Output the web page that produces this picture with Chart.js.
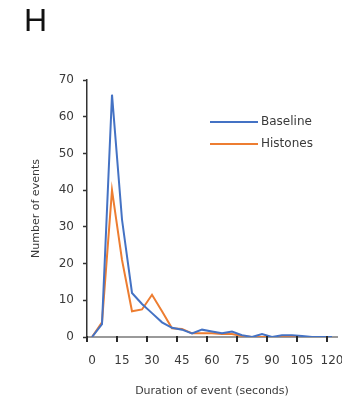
<!DOCTYPE html>
<html>
<head>
<meta charset="utf-8">
<script src="https://cdn.jsdelivr.net/npm/chart.js@4/dist/chart.umd.min.js"></script>
<style>
  body { margin: 0; background: #fff; }
  #wrap { position: relative; width: 342px; height: 401px; overflow: hidden; }
  #panel { position: absolute; left: 24px; top: 2px; font: 32px "Liberation Sans", Arial, sans-serif; color: #111; }
</style>
</head>
<body>
<div id="wrap">
  <canvas id="chart" width="342" height="401"></canvas>
  <div id="panel">H</div>
</div>
<script>
// Duration bins (seconds)
const durations = [0, 5, 10, 15, 20, 25, 30, 35, 40, 45, 50, 55, 60, 65, 70, 75, 80, 85, 90, 95, 100, 105, 110, 115, 120];

// Number of events per bin
const baseline = [0, 3.5, 66, 32, 12, 9, 6.5, 4, 2.5, 2, 1, 2, 1.5, 1, 1.5, 0.5, 0, 0.8, 0, 0.5, 0.5, 0.3, 0, 0, 0];
const histones = [0, 4, 40, 21, 7, 7.5, 11.5, 7, 2.4, 2.2, 1, 1, 1, 0.8, 0.8, 0.3, 0, 0, 0, 0, 0, 0, 0, 0, 0];

// Axis labels, and tick marks that sit between the bins (Excel style)
const xLabels = [0, 15, 30, 45, 60, 75, 90, 105, 120];
const xTickMarks = [-2.5, 12.5, 27.5, 42.5, 57.5, 72.5, 87.5, 102.5, 117.5];
const yTicks = [0, 10, 20, 30, 40, 50, 60, 70];

const textColor = "#3a3a3a";

const toPoints = (values) => durations.map((d, i) => ({ x: d, y: values[i] }));

// Legend drawn inside the plot, top right, plus the x tick marks
const extras = {
    id: "extras",
    afterDraw(chart) {
        const ctx = chart.ctx;
        const xs = chart.scales.x;
        ctx.save();

        // tick marks between bins
        ctx.strokeStyle = "#2a2a2a";
        ctx.lineWidth = 2;
        xTickMarks.forEach((v) => {
            const px = Math.round(xs.getPixelForValue(v));
            ctx.beginPath();
            ctx.moveTo(px, xs.top - 1);
            ctx.lineTo(px, xs.top + 5);
            ctx.stroke();
        });

        ctx.font = "12px 'DejaVu Sans', sans-serif";
        ctx.textBaseline = "middle";
        chart.data.datasets.forEach((ds, i) => {
            const y = 122 + i * 22;
            ctx.strokeStyle = ds.borderColor;
            ctx.lineWidth = 2;
            ctx.beginPath();
            ctx.moveTo(210, y);
            ctx.lineTo(258, y);
            ctx.stroke();
            ctx.fillStyle = textColor;
            ctx.fillText(ds.label, 261, y);
        });
        ctx.restore();
    }
};

const ctx = document.getElementById("chart").getContext("2d");

new Chart(ctx, {
    type: "line",
    data: {
        datasets: [
            {
                label: "Baseline",
                data: toPoints(baseline),
                borderColor: "#4472C4",
                backgroundColor: "#4472C4",
                borderWidth: 2,
                pointRadius: 0,
                tension: 0,
                fill: false,
            },
            {
                label: "Histones",
                data: toPoints(histones),
                borderColor: "#ED7D31",
                backgroundColor: "#ED7D31",
                borderWidth: 2,
                pointRadius: 0,
                tension: 0,
                fill: false,
            },
        ],
    },
    plugins: [extras],
    options: {
        responsive: false,
        animation: false,
        layout: {
            padding: { top: 80, right: 5, bottom: 0, left: 0 },
        },
        plugins: {
            legend: { display: false },
            tooltip: { enabled: false },
        },
        scales: {
            x: {
                type: "linear",
                min: -2.5,
                max: 122.5,
                afterBuildTicks: (scale) => { scale.ticks = xLabels.map((v) => ({ value: v })); },
                afterFit: (scale) => {
                    scale.height = 64;
                    // let the last label run off the edge like the original
                    scale.paddingLeft = 0;
                    scale.paddingRight = 0;
                },
                border: { color: "#9a9a9a", width: 2 },
                grid: {
                    drawOnChartArea: false,
                    drawTicks: true,
                    tickLength: 5,
                    tickColor: "rgba(0,0,0,0)",
                },
                ticks: {
                    autoSkip: false,
                    maxRotation: 0,
                    padding: 12,
                    color: textColor,
                    font: { size: 12, family: "DejaVu Sans" },
                },
                title: {
                    display: true,
                    text: "Duration of event (seconds)",
                    color: textColor,
                    font: { size: 11, family: "DejaVu Sans" },
                    padding: { top: 0, bottom: 3 },
                },
            },
            y: {
                min: 0,
                max: 70,
                afterFit: (scale) => { scale.width = 87; },
                afterBuildTicks: (scale) => { scale.ticks = yTicks.map((v) => ({ value: v })); },
                border: { color: "#333", width: 1.5 },
                grid: {
                    drawOnChartArea: false,
                    tickLength: 4,
                    tickColor: "#333",
                    tickWidth: 1.5,
                },
                ticks: {
                    padding: 9,
                    color: textColor,
                    font: { size: 12, family: "DejaVu Sans" },
                },
                title: {
                    display: true,
                    text: "Number of events",
                    color: textColor,
                    font: { size: 11, family: "DejaVu Sans" },
                    padding: { top: 30, bottom: 0 },
                },
            },
        },
    },
});
</script>
</body>
</html>
